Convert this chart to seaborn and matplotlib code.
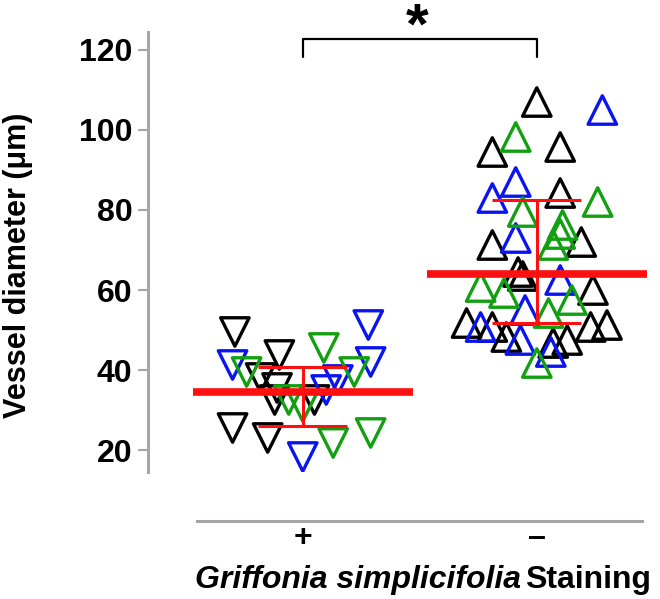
# Vessel diameter by Griffonia simplicifolia staining - open triangles, mean +/- SD in red
import seaborn as sns
import matplotlib.pyplot as plt
import pandas as pd

sns.set_theme(style="white")
plt.rcParams['font.family'] = ['Liberation Sans', 'DejaVu Sans']
plt.rcParams['font.weight'] = 'bold'
for key in ['text.color', 'axes.labelcolor', 'xtick.labelcolor', 'ytick.labelcolor']:
    plt.rcParams[key] = 'black'

# --- data ---
groups = ['+', '–']
group_markers = {'+': 'v', '–': '^'}

# "+" group (downward triangles): values and horizontal scatter (category units)
plus_black_y = [49.5, 43.75, 38, 35.5, 32.5, 32.5, 25.5, 23]
plus_black_dx = [-0.29, -0.10, -0.18, -0.11, -0.12, 0.05, -0.30, -0.15]
plus_blue_y = [51.25, 41.25, 42, 37.5, 35, 18.25]
plus_blue_dx = [0.28, -0.30, 0.29, 0.15, 0.10, 0.00]
plus_green_y = [45.5, 39.5, 39.5, 32.5, 30.75, 21.75, 24.25]
plus_green_dx = [0.09, -0.24, 0.22, -0.06, 0.00, 0.13, 0.29]

# "–" group (upward triangles)
minus_black_y = [107, 94.5, 95.75, 84.25, 71.25, 72, 64.5, 63.5, 60, 51.75,
                 50.75, 48.25, 46.75, 50.75, 51.25, 47.5]
minus_black_dx = [0.00, -0.19, 0.10, 0.10, -0.19, 0.19, -0.08, -0.06, 0.24, -0.30,
                  -0.19, -0.13, 0.07, 0.23, 0.30, 0.13]
minus_blue_y = [105, 87, 83, 73, 62.5, 55, 50.75, 47.5, 44.5]
minus_blue_dx = [0.28, -0.09, -0.19, -0.09, 0.10, -0.05, -0.24, -0.07, 0.06]
minus_green_y = [98.25, 79.5, 82, 76.25, 71.25, 60.75, 59.25, 57.5, 54.25, 41.75, 74]
minus_green_dx = [-0.09, -0.06, 0.26, 0.11, 0.07, -0.24, -0.14, 0.15, 0.05, 0.00, 0.10]

# summary lines (mean, lower and upper SD)
mean_vals = [34.5, 64]
sd_low = [26, 51.75]
sd_high = [40.75, 82.5]

# build a long table
series = [
    ('+', 'black', plus_black_y, plus_black_dx),
    ('+', 'blue', plus_blue_y, plus_blue_dx),
    ('+', 'green', plus_green_y, plus_green_dx),
    ('–', 'black', minus_black_y, minus_black_dx),
    ('–', 'blue', minus_blue_y, minus_blue_dx),
    ('–', 'green', minus_green_y, minus_green_dx),
]
rows = []
for grp, col, ys, dxs in series:
    for yv, dx in zip(ys, dxs):
        rows.append({'group': grp, 'color': col, 'x': groups.index(grp) + dx, 'y': yv})
df = pd.DataFrame(rows)

palette = {'black': '#000000', 'blue': '#0a14f0', 'green': '#12a012'}

fig = plt.figure(figsize=(6.6, 5.99), dpi=100)
ax = fig.add_axes([0.224, 0.212, 0.7606, 0.7346])

sns.scatterplot(data=df, x='x', y='y', hue='color', style='group', palette=palette,
                markers=group_markers, s=420, linewidth=2.4, legend=False, ax=ax, zorder=2)
# make the triangles hollow
for coll in ax.collections:
    fc = coll.get_facecolors()
    coll.set_edgecolors(fc)
    coll.set_facecolors('none')

# mean and SD in red
for i, g in enumerate(groups):
    ax.hlines(mean_vals[i], i - 0.47, i + 0.47, color='#ff1010', lw=5.5, zorder=3)
    ax.vlines(i, sd_low[i], sd_high[i], color='#ff1010', lw=2.2, zorder=3)
    ax.hlines([sd_low[i], sd_high[i]], i - 0.19, i + 0.19, color='#ff1010', lw=2.2, zorder=3)

# significance bracket
ax.plot([0, 0, 1, 1], [118.25, 122.75, 122.75, 118.25], color='black', lw=1.6, clip_on=False)
ax.text(0.49, 121.5, '*', fontsize=42, fontweight='bold', ha='center', va='baseline')

# axes styling
ax.set_xlim(-0.662, 1.483)
ax.set_ylim(14.5, 124.5)
ax.set_yticks([20, 40, 60, 80, 100, 120])
ax.set_xticks([0, 1])
ax.set_xticklabels(groups)
ax.set_xlabel('')
ax.set_ylabel('Vessel diameter (μm)', fontsize=22, fontweight='bold')
ax.yaxis.set_label_coords(-0.229, 0.47)

for side in ['top', 'right']:
    ax.spines[side].set_visible(False)
ax.spines['left'].set_color('#a6a6a6')
ax.spines['left'].set_linewidth(2.2)
ax.spines['bottom'].set_color('#a6a6a6')
ax.spines['bottom'].set_linewidth(2.2)
ax.spines['bottom'].set_position(('outward', 35))
ax.spines['bottom'].set_bounds(-0.45, 1.45)

ax.tick_params(axis='y', length=7, width=1.5, color='#a6a6a6', labelsize=23, pad=4, left=True)
ax.tick_params(axis='x', length=0, labelsize=23, pad=2)

# x label: italic species name + plain "Staining"
t1 = ax.text(0.094, -0.28, 'Griffonia simplicifolia', transform=ax.transAxes,
             fontsize=23, fontweight='bold', style='italic', ha='left', va='bottom')
ax.annotate('Staining', xy=(1, 0), xycoords=t1, xytext=(3, 0), textcoords='offset points',
            fontsize=23, fontweight='bold', ha='left', va='bottom')

plt.savefig('out.png', dpi=100)
